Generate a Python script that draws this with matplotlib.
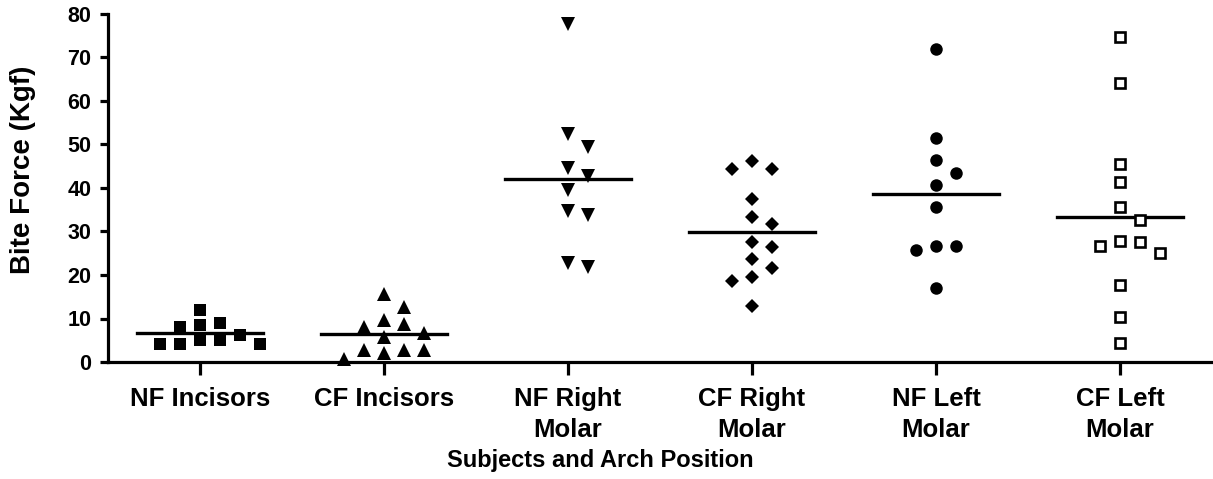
import matplotlib

matplotlib.use("Agg")
import matplotlib.pyplot as plt
import numpy as np

# bite force per subject (Kgf)
groups = ["NF Incisors", "CF Incisors", "NF Right\nMolar", "CF Right\nMolar",
          "NF Left\nMolar", "CF Left\nMolar"]
nf_incisors = [12.0, 9.0, 8.5, 8.0, 6.2, 5.1, 5.1, 4.1, 4.1, 4.1]
cf_incisors = [15.6, 12.6, 9.7, 8.7, 8.0, 6.7, 5.7, 2.8, 2.8, 2.8, 2.1, 0.8]
nf_right = [77.7, 52.4, 49.5, 44.5, 42.8, 39.5, 34.8, 33.8, 22.7, 21.9]
cf_right = [46.3, 44.3, 44.3, 37.4, 33.4, 31.7, 27.7, 26.4, 23.6, 21.5, 19.6, 18.7, 12.9]
nf_left = [71.9, 51.4, 46.4, 43.4, 40.7, 35.7, 26.7, 26.7, 25.7, 16.9]
cf_left = [74.8, 64.1, 45.5, 41.4, 35.7, 32.6, 27.9, 27.7, 26.7, 25.0, 17.7, 10.4, 4.3]
yticks = [0, 10, 20, 30, 40, 50, 60, 70, 80]

series = [nf_incisors, cf_incisors, nf_right, cf_right, nf_left, cf_left]
styles = [
    dict(marker="s", ms=8.4, mfc="black", mec="black", mew=0),
    dict(marker="^", ms=9.5, mfc="black", mec="black", mew=0),
    dict(marker="v", ms=9.5, mfc="black", mec="black", mew=0),
    dict(marker="D", ms=7.0, mfc="black", mec="black", mew=0),
    dict(marker="o", ms=9.0, mfc="black", mec="black", mew=0),
    dict(marker="s", ms=7.6, mfc="white", mec="black", mew=1.9),
]

plt.rcParams["font.family"] = ["Liberation Sans", "DejaVu Sans"]
plt.rcParams["font.weight"] = "bold"

W, H = 1213, 479
fig = plt.figure(figsize=(W / 100, H / 100), dpi=100)
ax = fig.add_axes([108 / W, 1 - 362 / H, (1212 - 108) / W, (362 - 14) / H])
ax.set_xlim(0.5, 6.5)
ax.set_ylim(0, 80)

px_per_y = ax.get_window_extent().height / 80.0
px_per_x = ax.get_window_extent().width / 6.0
step = 20 / px_per_x          # horizontal slot width (data units)
gap = 14 / px_per_y           # min vertical gap within a slot (data units)


def swarm(vals):
    """Greedy column beeswarm: slots 0, +1, -1, +2, -2 ..."""
    placed = []
    offs = []
    for v in vals:
        for k in (0, 1, -1, 2, -2, 3, -3, 4, -4):
            if all(not (s == k and abs(v - pv) < gap) for s, pv in placed):
                break
        placed.append((k, v))
        offs.append(k * step)
    return np.array(offs)


for i, (vals, st) in enumerate(zip(series, styles), start=1):
    vals = np.asarray(vals)
    order = np.argsort(-vals, kind="stable")
    xs = np.empty(len(vals))
    xs[order] = i + swarm(vals[order])
    ax.plot(xs, vals, ls="none", clip_on=False, zorder=3, **st)
    m = vals.mean()
    ax.plot([i - 0.34, i + 0.34], [m, m], color="black", lw=2.4, zorder=2)

for s in ("top", "right"):
    ax.spines[s].set_visible(False)
for s in ("left", "bottom"):
    ax.spines[s].set_linewidth(2.3)

ax.set_yticks(yticks)
ax.set_xticks(range(1, 7))
ax.set_xticklabels(groups, fontsize=18.5, fontweight="bold", linespacing=1.35)
ax.tick_params(axis="x", length=9, width=2.3, pad=9)
ax.tick_params(axis="y", length=6, width=2.3, pad=6, labelsize=15.5)

fig.text(23 / W, 1 - 170 / H, "Bite Force (Kgf)", rotation=90, fontsize=20,
         fontweight="bold", ha="center", va="center")
fig.text(600 / W, 1 - 460 / H, "Subjects and Arch Position", fontsize=17,
         fontweight="bold", ha="center", va="center")

fig.savefig("out.png", dpi=100)
